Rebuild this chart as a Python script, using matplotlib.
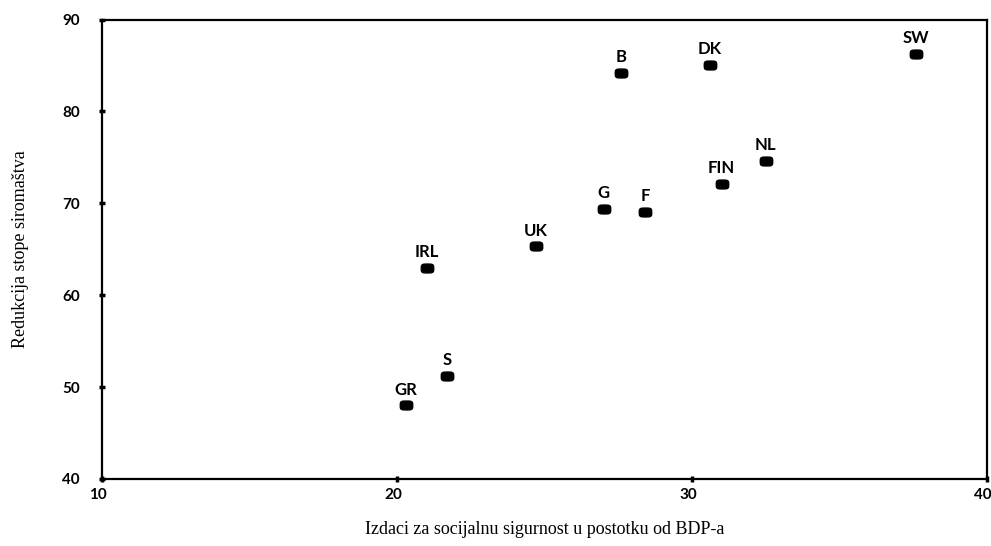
import matplotlib
matplotlib.use('Agg')
import numpy as np
import matplotlib.pyplot as plt
from matplotlib.path import Path
from matplotlib.transforms import ScaledTranslation

# data
countries = ['B', 'DK', 'SW', 'NL', 'FIN', 'G', 'F', 'UK', 'IRL', 'S', 'GR']
spending = [27.6, 30.6, 37.6, 32.5, 31.0, 27.0, 28.4, 24.7, 21.0, 21.7, 20.3]
reduction = [84.2, 85.1, 86.3, 74.6, 72.1, 69.4, 69.1, 65.3, 63.0, 51.2, 48.0]

x_ticks = [10, 20, 30, 40]
y_ticks = [40, 50, 60, 70, 80, 90]

# rounded-rectangle marker (superellipse), wider than tall
t = np.linspace(0, 2 * np.pi, 60)
px = 1.4 * np.sign(np.cos(t)) * np.abs(np.cos(t)) ** 0.5
py = np.sign(np.sin(t)) * np.abs(np.sin(t)) ** 0.5
blob = Path(np.column_stack([px, py]), closed=True)

fig = plt.figure(figsize=(9.91, 5.46), dpi=100)
ax = fig.add_axes([0.103, 0.123, 0.893, 0.841])

ax.scatter(spending, reduction, marker=blob, s=80, color='black', zorder=3)
for name, x, y in zip(countries, spending, reduction):
    ax.annotate(name, (x, y), xytext=(0, 5.5), textcoords='offset points',
                ha='center', va='bottom', fontsize=12, fontweight='bold',
                family='Lato')

ax.set_xlim(10, 40)
ax.set_ylim(40, 90)
ax.set_xticks(x_ticks)
ax.set_xticklabels([])
ax.set_yticks(y_ticks)
for lbl in ax.get_yticklabels():
    lbl.set_fontfamily('Lato')
    lbl.set_fontweight('bold')
    lbl.set_fontsize(11)

# x tick labels sit a little left of their ticks in the original
shift = ax.get_xaxis_transform() + ScaledTranslation(-4 / 100, -9 / 100, fig.dpi_scale_trans)
for v in x_ticks:
    ax.text(v, 0, str(v), transform=shift, ha='center', va='top',
            family='Lato', fontweight='bold', fontsize=11, clip_on=False)

ax.tick_params(axis='both', direction='inout', length=4, width=2.5)
ax.tick_params(axis='y', pad=14)
for sp in ax.spines.values():
    sp.set_linewidth(1.6)

ax.set_xlabel('Izdaci za socijalnu sigurnost u postotku od BDP-a',
              family='Liberation Serif', fontsize=13, labelpad=25)
ax.set_ylabel('Redukcija stope siromaštva',
              family='Liberation Serif', fontsize=13, labelpad=24)

fig.savefig('out.png', dpi=100)
